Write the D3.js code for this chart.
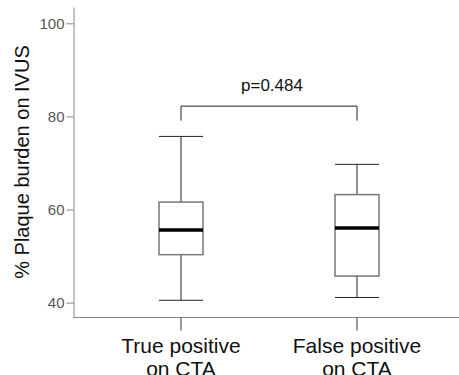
<!DOCTYPE html>
<html>
<head>
<meta charset="utf-8">
<script src="https://cdn.jsdelivr.net/npm/d3@7"></script>
<style>
  body { margin: 0; background: #fff; }
  text { font-family: Arial, "Liberation Sans", sans-serif; }
</style>
</head>
<body>
<div id="chart"></div>
<script>
// box plot stats
var groups = ["True positive|on CTA", "False positive|on CTA"];
var whiskerLow = [40.5, 41.1];
var q1 = [50.3, 45.7];
var median = [55.6, 56.0];
var q3 = [61.6, 63.2];
var whiskerHigh = [75.7, 69.7];
var yTicks = [40, 60, 80, 100];
var pLabel = "p=0.484";
var bracketTop = 82.2, bracketDrop = 79.1;

var width = 459, height = 375;
var margin = { left: 73.5, right: 0, top: 7, bottom: 57.5 };

var svg = d3.select("#chart").append("svg")
  .attr("width", width)
  .attr("height", height);

var y = d3.scaleLinear()
  .domain([36.8, 103.5])
  .range([height - margin.bottom, margin.top]);

var x = d3.scalePoint()
  .domain(groups)
  .range([181, 357]);

var boxW = 44;

// axes
var yAxis = svg.append("g")
  .attr("transform", "translate(" + margin.left + ",0)")
  .call(d3.axisLeft(y).tickValues(yTicks).tickSize(7).tickPadding(2).tickSizeOuter(0));
yAxis.select(".domain").attr("stroke", "#888");
yAxis.selectAll(".tick line").attr("stroke", "#888");
yAxis.selectAll(".tick text")
  .attr("fill", "#555")
  .style("font-size", "15px");

var xAxis = svg.append("g")
  .attr("transform", "translate(0," + (height - margin.bottom) + ")");
xAxis.append("line")
  .attr("x1", margin.left).attr("x2", width)
  .attr("stroke", "#888");
xAxis.selectAll(".xt")
  .data(groups)
  .enter().append("line")
  .attr("x1", d => x(d)).attr("x2", d => x(d))
  .attr("y1", 0).attr("y2", 13)
  .attr("stroke", "#333");
var xl = xAxis.selectAll(".xl")
  .data(groups)
  .enter().append("text")
  .attr("x", d => x(d))
  .attr("y", 35)
  .attr("text-anchor", "middle")
  .attr("fill", "#111")
  .style("font-size", "21px");
xl.each(function(d) {
  var parts = d.split("|");
  d3.select(this).selectAll("tspan")
    .data(parts)
    .enter().append("tspan")
    .attr("x", x(d))
    .attr("dy", (p, i) => i ? 23 : 0)
    .text(p => p);
});

// y title
svg.append("text")
  .attr("transform", "translate(29," + 162 + ") rotate(-90)")
  .attr("text-anchor", "middle")
  .attr("fill", "#111")
  .style("font-size", "20px")
  .text("% Plaque burden on IVUS");

// boxes
var g = svg.selectAll(".box")
  .data(groups)
  .enter().append("g")
  .attr("class", "box");

g.append("line")
  .attr("x1", d => x(d)).attr("x2", d => x(d))
  .attr("y1", (d, i) => y(whiskerHigh[i]))
  .attr("y2", (d, i) => y(q3[i]))
  .attr("stroke", "#222");
g.append("line")
  .attr("x1", d => x(d)).attr("x2", d => x(d))
  .attr("y1", (d, i) => y(q1[i]))
  .attr("y2", (d, i) => y(whiskerLow[i]))
  .attr("stroke", "#222");
g.append("line")
  .attr("x1", d => x(d) - boxW / 2).attr("x2", d => x(d) + boxW / 2)
  .attr("y1", (d, i) => y(whiskerHigh[i]))
  .attr("y2", (d, i) => y(whiskerHigh[i]))
  .attr("stroke", "#222");
g.append("line")
  .attr("x1", d => x(d) - boxW / 2).attr("x2", d => x(d) + boxW / 2)
  .attr("y1", (d, i) => y(whiskerLow[i]))
  .attr("y2", (d, i) => y(whiskerLow[i]))
  .attr("stroke", "#222");
g.append("rect")
  .attr("x", d => x(d) - boxW / 2)
  .attr("width", boxW)
  .attr("y", (d, i) => y(q3[i]))
  .attr("height", (d, i) => y(q1[i]) - y(q3[i]))
  .attr("fill", "#fff")
  .attr("stroke", "#777")
  .attr("stroke-width", 1.5);
g.append("line")
  .attr("x1", d => x(d) - boxW / 2).attr("x2", d => x(d) + boxW / 2)
  .attr("y1", (d, i) => y(median[i]))
  .attr("y2", (d, i) => y(median[i]))
  .attr("stroke", "#000")
  .attr("stroke-width", 3.5);

// significance bracket
var x0 = x(groups[0]), x1 = x(groups[1]);
svg.append("path")
  .attr("d", "M" + x0 + "," + y(bracketDrop) + "V" + y(bracketTop) + "H" + x1 + "V" + y(bracketDrop))
  .attr("fill", "none")
  .attr("stroke", "#222");
svg.append("text")
  .attr("x", (x0 + x1) / 2 + 3)
  .attr("y", y(bracketTop) - 15)
  .attr("text-anchor", "middle")
  .attr("fill", "#111")
  .style("font-size", "17px")
  .text(pLabel);
</script>
</body>
</html>
